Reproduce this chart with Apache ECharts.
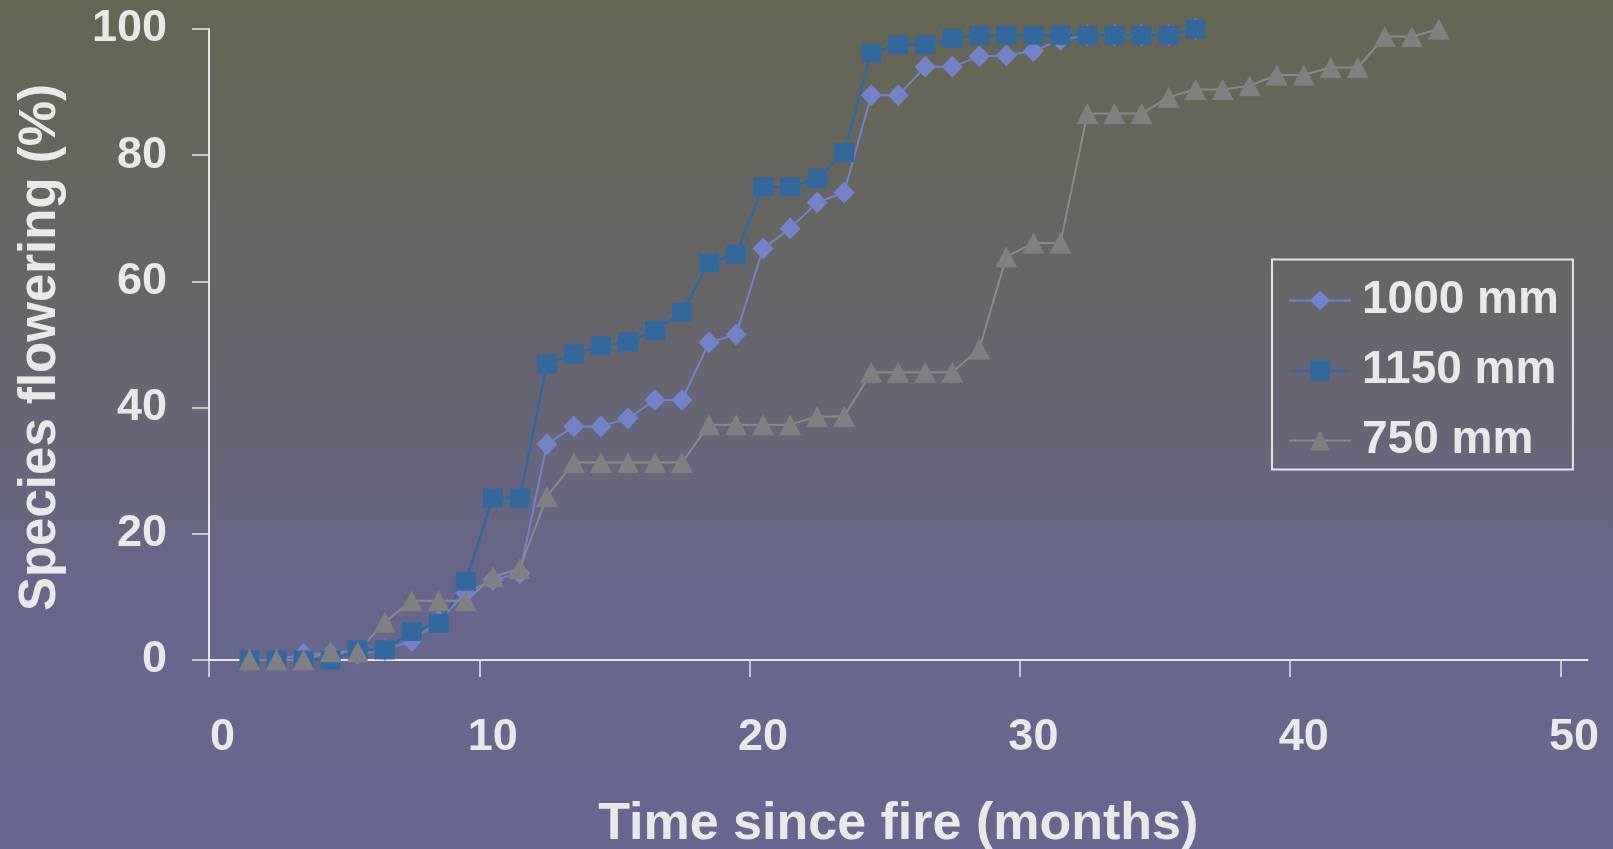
<!DOCTYPE html>
<html>
<head>
<meta charset="utf-8">
<script src="https://cdn.jsdelivr.net/npm/echarts@6/dist/echarts.min.js"></script>
<style>
  html, body { margin: 0; padding: 0; background: #66667a; }
  #chart { width: 1613px; height: 849px; }
</style>
</head>
<body>
<div id="chart"></div>
<script>
// Months since fire at which flowering was recorded
const months1000 = [1, 2, 3, 4, 5, 6, 7, 8, 9, 10, 11, 12, 13, 14, 15, 16, 17, 18,
  19, 20, 21, 22, 23, 24, 25, 26, 27, 28, 29, 30, 31, 32, 33, 34, 35, 36];
const months1150 = [1, 2, 3, 4, 5, 6, 7, 8, 9, 10, 11, 12, 13, 14, 15, 16, 17, 18,
  19, 20, 21, 22, 23, 24, 25, 26, 27, 28, 29, 30, 31, 32, 33, 34, 35, 36];
const months750 = [1, 2, 3, 4, 5, 6, 7, 8, 9, 10, 11, 12, 13, 14, 15, 16, 17, 18,
  19, 20, 21, 22, 23, 24, 25, 26, 27, 28, 29, 30, 31, 32, 33, 34, 35, 36, 37, 38,
  39, 40, 41, 42, 43, 44, 45];

// Cumulative percentage of species flowering, per rainfall site
const flowering1000 = [0, 0, 1.0, 1.0, 1.0, 1.6, 3.0, 6.2, 10.6, 12.7, 13.7, 34.2,
  37.0, 37.0, 38.3, 41.2, 41.2, 50.3, 51.6, 65.2, 68.4, 72.5, 74.1, 89.5, 89.5,
  94.0, 94.0, 95.7, 95.8, 96.5, 98.3, 99.0, 99.0, 99.0, 99.0, 100];
const flowering1150 = [0, 0, 0, 0, 1.6, 1.6, 4.5, 5.8, 12.5, 25.7, 25.7, 46.9,
  48.5, 49.8, 50.4, 52.2, 55.1, 63.0, 64.3, 75.0, 75.0, 76.3, 80.4, 96.2, 97.5,
  97.5, 98.5, 99.0, 99.0, 99.0, 99.0, 99.0, 99.0, 99.0, 99.0, 100];
const flowering750 = [0, 0, 0, 1.3, 1.3, 6.0, 9.4, 9.4, 9.4, 13.2, 14.5, 25.9,
  31.3, 31.3, 31.3, 31.3, 31.3, 37.3, 37.3, 37.3, 37.3, 38.6, 38.6, 45.6, 45.6,
  45.6, 45.6, 49.3, 63.9, 66.1, 66.1, 86.6, 86.6, 86.6, 89.2, 90.4, 90.4, 91.0,
  92.7, 92.7, 93.9, 93.9, 98.8, 98.8, 100];

const seriesNames = ['1000 mm', '1150 mm', '750 mm'];
const xTickLabels = [0, 10, 20, 30, 40, 50];
const yTickInterval = 20;

const FONT = '"Liberation Sans", Arial, Helvetica, sans-serif';
const TEXT = '#e9e9e9';
const AXIS = '#e6e6e6';

function pairs(months, values) {
  return months.map((m, i) => [m, values[i]]);
}

const chart = echarts.init(document.getElementById('chart'), null, { renderer: 'canvas' });

chart.setOption({
  animation: false,
  backgroundColor: {
    type: 'linear', x: 0, y: 0, x2: 0, y2: 1,
    colorStops: [
      { offset: 0, color: '#656652' },
      { offset: 0.35, color: '#666568' },
      { offset: 0.7, color: '#67668a' },
      { offset: 1, color: '#67668f' }
    ]
  },
  textStyle: { fontFamily: FONT },
  grid: {
    left: 209, right: 25.5, top: 29, bottom: 189,
    containLabel: false, outerBoundsMode: 'none'
  },
  legend: {
    data: seriesNames,
    orient: 'vertical',
    left: 1272, top: 259.5,
    padding: [16, 14, 4, 16],
    itemWidth: 62, itemHeight: 25,
    itemGap: 20,
    borderColor: '#e6e6e6', borderWidth: 2,
    textStyle: {
      color: TEXT, fontSize: 46, fontWeight: 'bold', fontFamily: FONT,
      lineHeight: 50, padding: [0, 0, 0, 6]
    }
  },
  xAxis: {
    type: 'value',
    min: -0.5, max: 50.5,
    name: 'Time since fire (months)',
    nameLocation: 'middle',
    nameGap: 139,
    nameTextStyle: { color: TEXT, fontSize: 52, fontWeight: 'bold', fontFamily: FONT, lineHeight: 52 },
    axisLine: { onZero: false, lineStyle: { color: AXIS, width: 2 } },
    axisTick: {
      show: true, length: 17, inside: false,
      customValues: xTickLabels.map(v => v - 0.5),
      lineStyle: { color: AXIS, width: 1.5 }
    },
    axisLabel: {
      customValues: xTickLabels,
      formatter: v => String(v),
      margin: 55,
      color: TEXT, fontSize: 45, fontWeight: 'bold', fontFamily: FONT, lineHeight: 45
    },
    splitLine: { show: false }
  },
  yAxis: {
    type: 'value',
    min: 0, max: 100, interval: yTickInterval,
    name: 'Species flowering (%)',
    nameLocation: 'middle',
    nameGap: 143,
    nameTextStyle: {
      color: TEXT, fontSize: 51, fontWeight: 'bold', fontFamily: FONT, lineHeight: 51,
      padding: [0, 6, 0, 0]
    },
    axisLine: { show: true, onZero: false, lineStyle: { color: AXIS, width: 2 } },
    axisTick: { show: true, length: 17, inside: false, lineStyle: { color: AXIS, width: 1.5 } },
    axisLabel: {
      margin: 42,
      padding: [5, 0, 0, 0],
      color: TEXT, fontSize: 45, fontWeight: 'bold', fontFamily: FONT
    },
    splitLine: { show: false }
  },
  series: [
    {
      name: seriesNames[0],
      type: 'line',
      data: pairs(months1000, flowering1000),
      symbol: 'diamond',
      symbolSize: [21, 22],
      showAllSymbol: true,
      color: '#7383c9',
      lineStyle: { color: '#7383c9', width: 2 },
      itemStyle: { color: '#7383c9' }
    },
    {
      name: seriesNames[1],
      type: 'line',
      data: pairs(months1150, flowering1150),
      symbol: 'rect',
      symbolSize: [20, 19],
      showAllSymbol: true,
      color: '#33689e',
      lineStyle: { color: '#33689e', width: 2.5 },
      itemStyle: { color: '#33689e' }
    },
    {
      name: seriesNames[2],
      type: 'line',
      data: pairs(months750, flowering750),
      symbol: 'triangle',
      symbolSize: [22, 21],
      showAllSymbol: true,
      color: '#808080',
      lineStyle: { color: '#8a8a8a', width: 2 },
      itemStyle: { color: '#808080' }
    }
  ]
});
</script>
</body>
</html>
